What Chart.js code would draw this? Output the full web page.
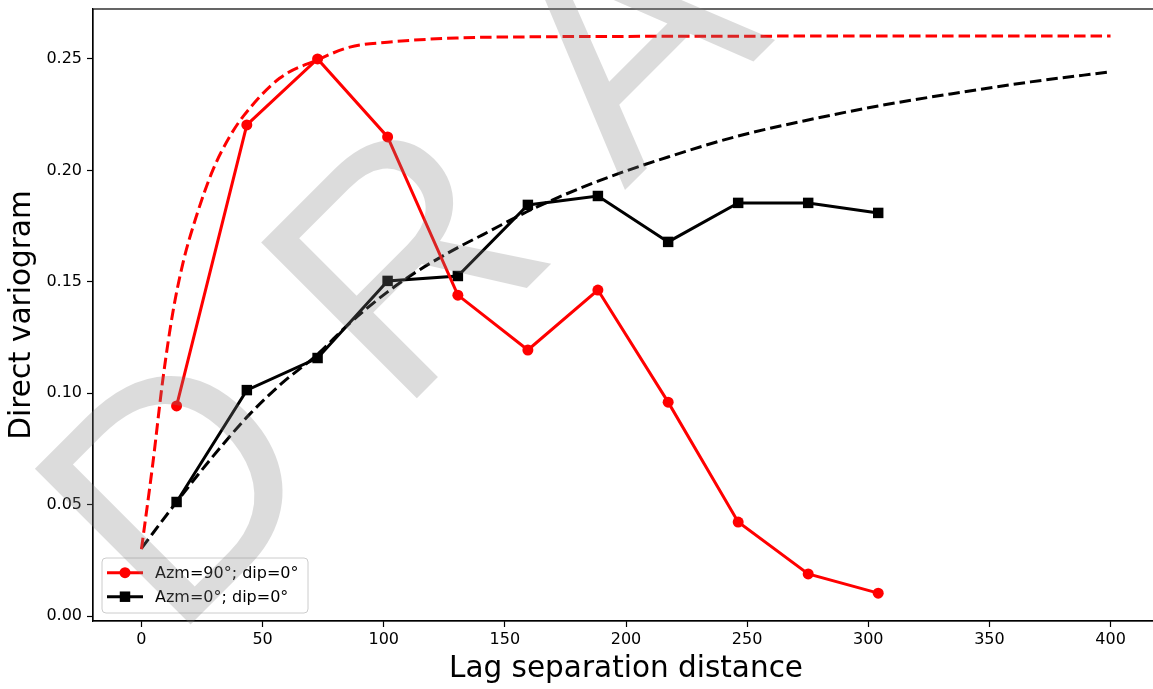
<!DOCTYPE html>
<html>
<head>
<meta charset="utf-8">
<script src="https://cdn.jsdelivr.net/npm/chart.js@4/dist/chart.umd.min.js"></script>
<style>
  html, body { margin: 0; padding: 0; background: #ffffff; overflow: hidden; }
  canvas { display: block; }
</style>
</head>
<body>
<canvas id="c" width="1170" height="689"></canvas>
<script>
// ---- data ----
const lagDistances = [14.5, 43.5, 72.7, 101.6, 130.6, 159.5, 188.4, 217.4, 246.3, 275.2, 304.1];
const azm90Values  = [0.0943, 0.2204, 0.2500, 0.2150, 0.1440, 0.1194, 0.1463, 0.0960, 0.0422, 0.0189, 0.0103];
const azm0Values   = [0.0512, 0.1014, 0.1158, 0.1504, 0.1526, 0.1845, 0.1885, 0.1679, 0.1854, 0.1854, 0.1809];

const modelRedX = [0, 4.7, 8.8, 12.9, 17.1, 22.6, 29.5, 36.4, 41.9, 57, 72.7, 86, 101.6, 130, 160, 200, 250, 300, 350, 400];
const modelRedY = [0.0300, 0.0685, 0.1059, 0.1359, 0.1583, 0.1792, 0.2002, 0.2151, 0.2241, 0.2413, 0.2496, 0.2553, 0.2575, 0.2594, 0.2599, 0.2601, 0.2602, 0.2603, 0.2603, 0.2603];

const modelBlackX = [0, 14.5, 29, 44.6, 58, 72.2, 86, 101.6, 113.5, 130, 141, 161.7, 189.3, 217.4, 246.3, 275.2, 304.1, 334, 367, 400];
const modelBlackY = [0.0304, 0.0512, 0.0710, 0.0905, 0.1045, 0.1170, 0.1315, 0.1455, 0.1545, 0.1650, 0.1712, 0.1828, 0.1955, 0.2060, 0.2154, 0.2226, 0.2289, 0.2343, 0.2397, 0.2442];

const seriesLabels = ['Azm=90°; dip=0°', 'Azm=0°; dip=0°'];
const xTickValues = [0, 50, 100, 150, 200, 250, 300, 350, 400];
const yTickValues = [0.00, 0.05, 0.10, 0.15, 0.20, 0.25];
const xTitle = 'Lag separation distance';
const yTitle = 'Direct variogram';
const watermarkText = 'D R A F T';

const toPts = (xs, ys) => xs.map((x, i) => ({x: x, y: ys[i]}));

const FONT = '"DejaVu Sans", sans-serif';

// ---- plugins ----
const framePlugin = {
  id: 'frame',
  afterDatasetsDraw(chart) {
    const {ctx, chartArea: a} = chart;
    ctx.save();
    ctx.strokeStyle = '#000';
    ctx.lineWidth = 1.2;
    ctx.strokeRect(a.left, a.top, a.right - a.left, a.bottom - a.top);
    ctx.restore();
  }
};

const legendPlugin = {
  id: 'boxLegend',
  afterDraw(chart) {
    const ctx = chart.ctx;
    const x0 = 102, y0 = 558, w = 206, h = 55, r = 4;
    ctx.save();
    ctx.beginPath();
    ctx.moveTo(x0 + r, y0);
    ctx.arcTo(x0 + w, y0, x0 + w, y0 + h, r);
    ctx.arcTo(x0 + w, y0 + h, x0, y0 + h, r);
    ctx.arcTo(x0, y0 + h, x0, y0, r);
    ctx.arcTo(x0, y0, x0 + w, y0, r);
    ctx.closePath();
    ctx.fillStyle = 'rgba(255,255,255,0.8)';
    ctx.fill();
    ctx.strokeStyle = '#cccccc';
    ctx.lineWidth = 1;
    ctx.stroke();
    const rows = [572.7, 596.7];
    [0, 1].forEach((i) => {
      const ds = chart.data.datasets[i];
      const y = rows[i];
      ctx.strokeStyle = ds.borderColor;
      ctx.lineWidth = ds.borderWidth;
      ctx.setLineDash([]);
      ctx.beginPath();
      ctx.moveTo(107, y);
      ctx.lineTo(143, y);
      ctx.stroke();
      ctx.fillStyle = ds.pointBackgroundColor;
      if (ds.pointStyle === 'rect') {
        const s = ds.pointRadius * Math.SQRT1_2;
        ctx.fillRect(125 - s, y - s, 2 * s, 2 * s);
      } else {
        ctx.beginPath();
        ctx.arc(125, y, ds.pointRadius, 0, Math.PI * 2);
        ctx.fill();
      }
      ctx.fillStyle = '#000';
      ctx.font = '16px ' + FONT;
      ctx.textBaseline = 'middle';
      ctx.textAlign = 'left';
      ctx.fillText(ds.label, 155, y + 1);
    });
    ctx.restore();
  }
};

const watermarkPlugin = {
  id: 'watermark',
  afterDraw(chart) {
    const ctx = chart.ctx;
    ctx.save();
    ctx.translate(172, 643);
    ctx.rotate(-Math.PI / 4);
    ctx.font = '320px "Liberation Sans", Arial, sans-serif';
    ctx.fillStyle = 'rgba(128,128,128,0.276)';
    ctx.textBaseline = 'alphabetic';
    ctx.textAlign = 'left';
    ctx.fillText(watermarkText, 0, 0);
    ctx.restore();
  }
};

new Chart(document.getElementById('c'), {
  type: 'scatter',
  data: {
    datasets: [
      {
        label: seriesLabels[0],
        data: toPts(lagDistances, azm90Values),
        showLine: true,
        borderColor: '#ff0000',
        backgroundColor: '#ff0000',
        pointBackgroundColor: '#ff0000',
        pointBorderColor: '#ff0000',
        borderWidth: 3,
        pointStyle: 'circle',
        pointRadius: 5.5,
        pointBorderWidth: 0,
        tension: 0
      },
      {
        label: seriesLabels[1],
        data: toPts(lagDistances, azm0Values),
        showLine: true,
        borderColor: '#000000',
        backgroundColor: '#000000',
        pointBackgroundColor: '#000000',
        pointBorderColor: '#000000',
        borderWidth: 3,
        pointStyle: 'rect',
        pointRadius: 7.4,
        pointBorderWidth: 0,
        tension: 0
      },
      {
        label: 'model 90',
        data: toPts(modelRedX, modelRedY),
        showLine: true,
        borderColor: '#ff0000',
        borderWidth: 3,
        borderDash: [11.5, 5],
        pointRadius: 0,
        cubicInterpolationMode: 'monotone'
      },
      {
        label: 'model 0',
        data: toPts(modelBlackX, modelBlackY),
        showLine: true,
        borderColor: '#000000',
        borderWidth: 3,
        borderDash: [11.5, 5],
        pointRadius: 0,
        cubicInterpolationMode: 'monotone'
      }
    ]
  },
  options: {
    responsive: false,
    animation: false,
    devicePixelRatio: 1,
    layout: { padding: { top: 9, right: 11, left: 0, bottom: 0 } },
    plugins: {
      legend: { display: false },
      tooltip: { enabled: false }
    },
    scales: {
      x: {
        type: 'linear',
        min: -20,
        max: 420,
        afterFit(s) { s.height = 68; },
        afterBuildTicks(s) { s.ticks = xTickValues.map(v => ({value: v})); },
        grid: { drawOnChartArea: false, tickLength: 6, tickWidth: 1.2, tickColor: '#000' },
        border: { display: true, color: '#000', width: 1.2 },
        ticks: {
          color: '#000',
          padding: 3,
          maxRotation: 0,
          font: { family: FONT, size: 16 },
          callback: (v) => String(v)
        },
        title: {
          display: true,
          text: xTitle,
          color: '#000',
          font: { family: FONT, size: 29.5, lineHeight: 1.2 },
          padding: { top: 0, bottom: 1.8 }
        }
      },
      y: {
        type: 'linear',
        min: -0.0022,
        max: 0.2724,
        afterFit(s) { s.width = 93; },
        afterBuildTicks(s) { s.ticks = yTickValues.map(v => ({value: v})); },
        grid: { drawOnChartArea: false, tickLength: 6, tickWidth: 1.2, tickColor: '#000' },
        border: { display: true, color: '#000', width: 1.2 },
        ticks: {
          color: '#000',
          padding: 5,
          font: { family: FONT, size: 16, lineHeight: 0.5 },
          callback: (v) => Number(v).toFixed(2)
        },
        title: {
          display: true,
          text: yTitle,
          color: '#000',
          font: { family: FONT, size: 29.5, lineHeight: 1.2 },
          padding: { top: 5, bottom: 0 }
        }
      }
    }
  },
  plugins: [framePlugin, legendPlugin, watermarkPlugin]
});
</script>
</body>
</html>
